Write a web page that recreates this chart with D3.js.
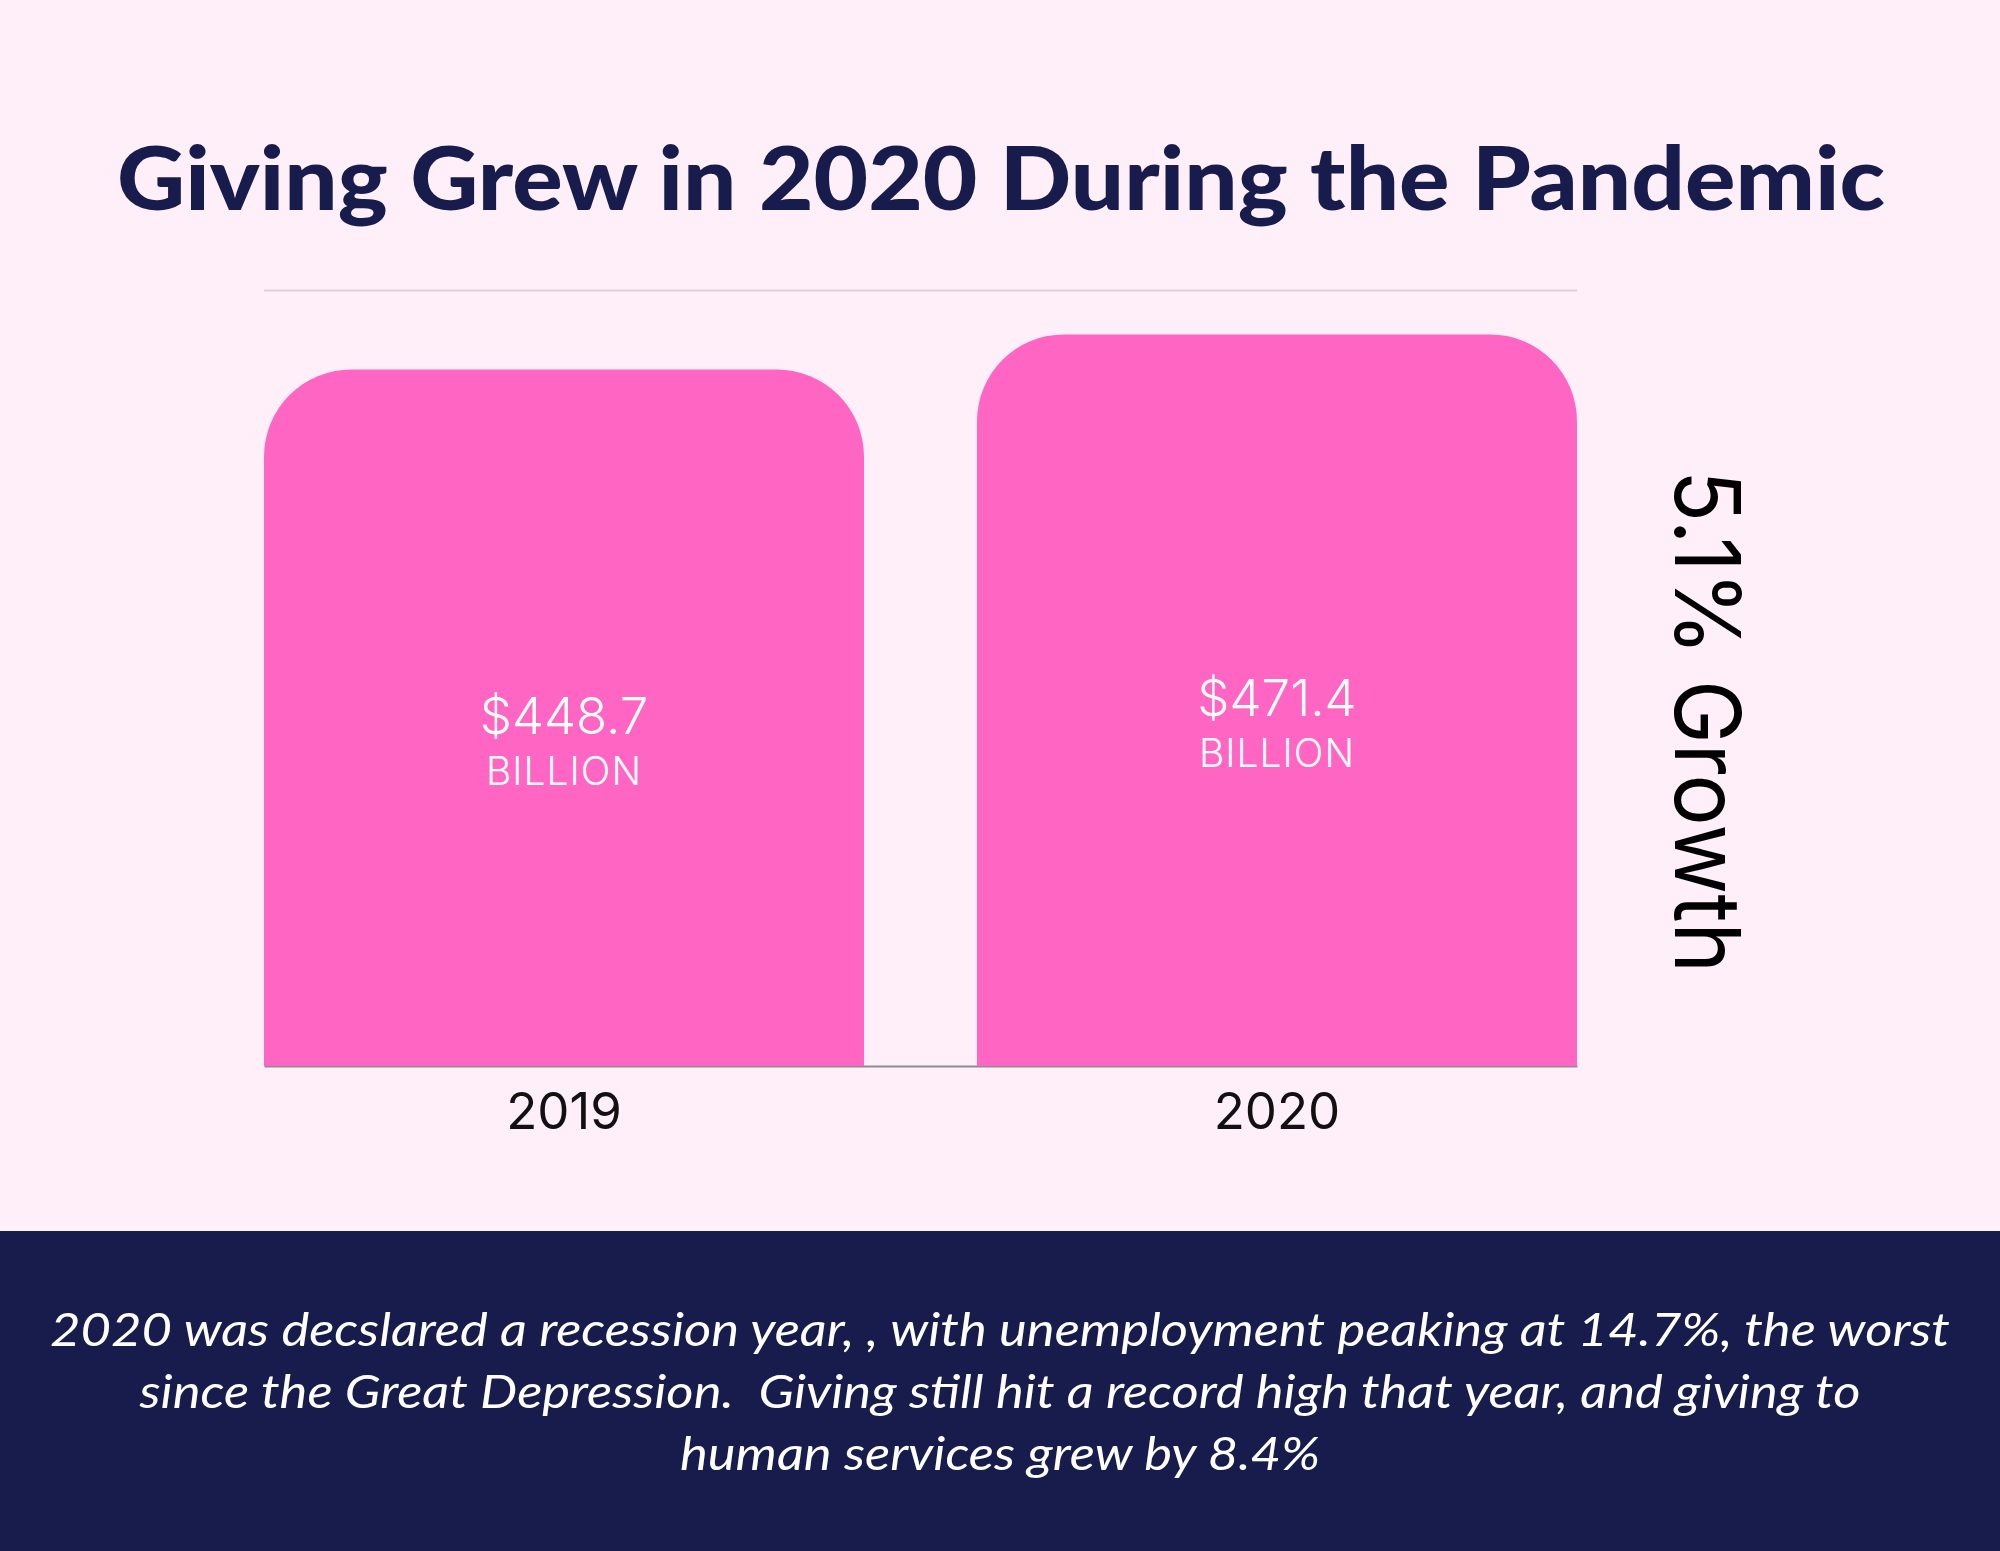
<!DOCTYPE html>
<html>
<head>
<meta charset="utf-8">
<script src="https://cdn.jsdelivr.net/npm/d3@7"></script>
<style>
  html, body { margin: 0; padding: 0; background: #FFEFF8; }
  svg { display: block; }
</style>
</head>
<body>
<svg id="chart" width="2000" height="1551"></svg>
<script>
// ---- data ----
const years = ["2019", "2020"];
const giving = [448.7, 471.4];
const valueLabels = ["$448.7", "$471.4"];
const unitLabel = "BILLION";
const titleText = "Giving Grew in 2020 During the Pandemic";
const growthText = "5.1% Growth";
const footerLines = [
  "2020 was decslared a recession year, , with unemployment peaking at 14.7%, the worst",
  "since the Great Depression.  Giving still hit a record high that year, and giving to",
  "human services grew by 8.4%"
];
const yDomain = [0, 500];

// ---- layout ----
const W = 2000, H = 1551;
const plot = { left: 264, right: 1577, top: 290, bottom: 1066 };
const colors = { bg: "#FFEFF8", bar: "#FF66C4", navy: "#171C4C", rule: "#DDD0DB", axis: "#8C8C8C" };

const svg = d3.select("#chart");
svg.append("rect").attr("width", W).attr("height", H).attr("fill", colors.bg);

// title
svg.append("text")
  .attr("x", 1001).attr("y", 210)
  .attr("text-anchor", "middle")
  .attr("font-family", "Lato, 'Noto Sans', sans-serif")
  .attr("font-weight", 900)
  .attr("font-size", 88)
  .attr("fill", colors.navy)
  .attr("textLength", 1768).attr("lengthAdjust", "spacingAndGlyphs")
  .text(titleText);

// scales
const x = d3.scaleBand().domain(years).range([plot.left, plot.right]).paddingInner(0.1585).paddingOuter(0);
const y = d3.scaleLinear().domain(yDomain).range([plot.bottom, plot.top]);

// top gridline (at domain max)
svg.append("g")
  .attr("transform", `translate(${plot.left},0)`)
  .call(d3.axisLeft(y).tickValues([yDomain[1]]).tickSize(-(plot.right - plot.left)).tickFormat(""))
  .call(g => g.select(".domain").remove())
  .call(g => g.selectAll(".tick line").attr("stroke", colors.rule).attr("stroke-width", 2));

// baseline axis
const xAxis = svg.append("g")
  .attr("transform", `translate(0,${plot.bottom})`)
  .call(d3.axisBottom(x).tickSize(0).tickPadding(0));
xAxis.select(".domain").attr("stroke", colors.axis).attr("stroke-width", 2);
xAxis.selectAll(".tick text")
  .attr("dy", 0).attr("y", 63)
  .attr("font-family", "Inter, 'Noto Sans', sans-serif")
  .attr("font-size", 51)
  .attr("fill", "#111");

// bars with rounded tops
const R = 87;
function barPath(x0, w, yTop, yBot) {
  const r = Math.min(R, w / 2, yBot - yTop);
  return `M${x0},${yBot}V${yTop + r}A${r},${r} 0 0 1 ${x0 + r},${yTop}H${x0 + w - r}A${r},${r} 0 0 1 ${x0 + w},${yTop + r}V${yBot}Z`;
}
const data = years.map((yr, i) => ({ year: yr, value: giving[i], label: valueLabels[i] }));

svg.append("g").selectAll("path").data(data).join("path")
  .attr("d", d => barPath(x(d.year), x.bandwidth(), y(d.value), y(0)))
  .attr("fill", colors.bar);

// value labels inside bars
const lbl = svg.append("g").selectAll("g").data(data).join("g")
  .attr("transform", d => `translate(${x(d.year) + x.bandwidth() / 2},${(y(d.value) + y(0)) / 2})`);
lbl.append("text")
  .attr("text-anchor", "middle").attr("y", 16)
  .attr("font-family", "Inter, 'Noto Sans', sans-serif")
  .attr("font-weight", 300).attr("font-size", 51)
  .attr("fill", "#fff")
  .text(d => d.label);
lbl.append("text")
  .attr("text-anchor", "middle").attr("y", 67)
  .attr("font-family", "Inter, 'Noto Sans', sans-serif")
  .attr("font-weight", 300).attr("font-size", 39)
  .attr("letter-spacing", 1)
  .attr("fill", "#fff")
  .text(unitLabel);

// growth annotation (rotated)
svg.append("text")
  .attr("transform", "translate(1675,470) rotate(90)")
  .attr("font-family", "Inter, 'Noto Sans', sans-serif")
  .attr("font-weight", 400).attr("font-size", 91)
  .attr("fill", "#000")
  .attr("textLength", 503).attr("lengthAdjust", "spacingAndGlyphs")
  .text(growthText);

// footer band
svg.append("rect").attr("x", 0).attr("y", 1231).attr("width", W).attr("height", H - 1231).attr("fill", colors.navy);
const ft = svg.append("g").selectAll("text").data(footerLines).join("text")
  .attr("x", 1000).attr("y", (d, i) => 1346 + i * 62)
  .attr("text-anchor", "middle")
  .attr("xml:space", "preserve")
  .style("white-space", "pre")
  .attr("font-family", "Lato, 'Open Sans', sans-serif")
  .attr("font-style", "italic").attr("font-weight", 400)
  .attr("font-size", 46)
  .attr("fill", "#fff")
  .text(d => d);
{
  const w0 = ft.nodes()[0].getComputedTextLength();
  const k = 1900 / w0;
  ft.each(function () {
    const w = this.getComputedTextLength();
    d3.select(this).attr("textLength", w * k).attr("lengthAdjust", "spacingAndGlyphs");
  });
}
</script>
</body>
</html>
